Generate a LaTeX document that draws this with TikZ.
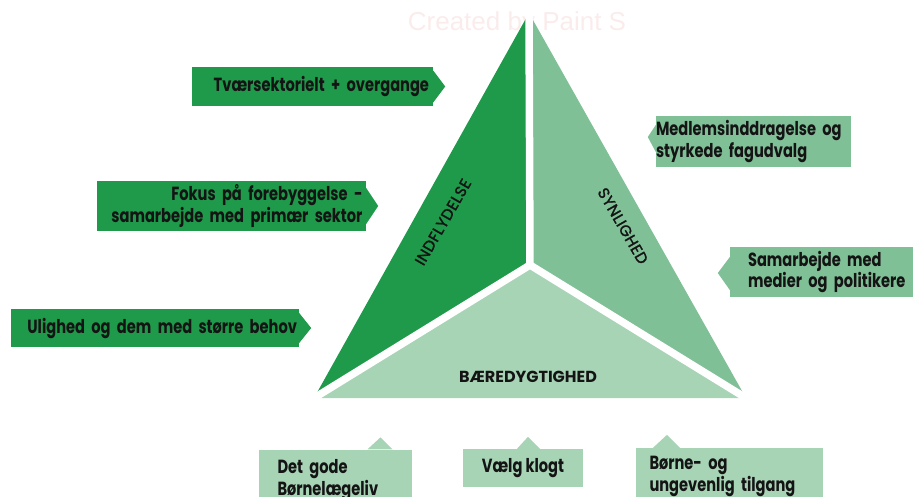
\documentclass[tikz,border=0pt]{standalone}
\usepackage{fontspec}
\usepackage{tikz}
\usepackage{xcolor}
\usetikzlibrary{calc,positioning}
\setmainfont{Poppins}
\newfontfamily\boxfont[FakeStretch=0.77]{Poppins}
\newfontfamily\sidefont[FakeBold=1.5, LetterSpace=3]{Poppins}
\newfontfamily\markfont{Liberation Sans}

\definecolor{dkgreen}{RGB}{30,154,74}
\definecolor{mdgreen}{RGB}{128,192,151}
\definecolor{ltgreen}{RGB}{168,212,182}
\definecolor{txt}{RGB}{20,20,20}
\definecolor{wmark}{RGB}{251,236,236}

\begin{document}
\begin{tikzpicture}[x=1pt, y=-1pt,
    box/.style={inner sep=0pt, text=txt, font=\boxfont\bfseries\fontsize{19}{20}\selectfont},
    leftbox/.style={box, fill=dkgreen, align=right},
    rightbox/.style={box, fill=mdgreen, align=left},
    lowbox/.style={box, fill=ltgreen, align=left},
    side/.style={text=txt, font=\sidefont\fontsize{15.5}{18}\selectfont}]

    \useasboundingbox (0,0) rectangle (913,496);
    \clip (0,0) rectangle (913,496);

    % watermark
    \node[text=wmark, font=\markfont\fontsize{26}{26}\selectfont] (wm) at (517,24) {Created by Paint S};

    % triangle
    \coordinate (apex) at (529,13);
    \coordinate (lft) at (314,398);
    \coordinate (rgt) at (746,398);
    \coordinate (mid) at (530,265);
    \fill[dkgreen] (apex) -- (mid) -- (lft) -- cycle;
    \fill[mdgreen] (apex) -- (mid) -- (rgt) -- cycle;
    \fill[ltgreen] (lft) -- (mid) -- (rgt) -- cycle;
    \draw[white, line width=7.5pt, line join=round] (apex) -- (mid) (lft) -- (mid) -- (rgt);

    \node[side, rotate=60] (indfl) at (443,222) {INDFLYDELSE};
    \node[side, rotate=-60] (synl) at (623,226) {SYNLIGHED};
    \node[text=txt, font=\bfseries\fontsize{16}{18}\selectfont] (baer) at (528,377) {BÆREDYGTIGHED};

    % left boxes
    \node[leftbox, minimum width=241, minimum height=39, text width=233] (tvaer) at (312.5,86.5) {Tværsektorielt + overgange};
    \node[leftbox, minimum width=269, minimum height=50, text width=262] (fokus) at (231.5,206) {Fokus på forebyggelse -\\samarbejde med primær sektor};
    \node[leftbox, minimum width=288, minimum height=38, text width=284] (ulighed) at (155,328) {Ulighed og dem med større behov};
    \fill[dkgreen] ([yshift=16pt]tvaer.east) -- ([xshift=12pt]tvaer.east) -- ([yshift=-16pt]tvaer.east) -- cycle;
    \fill[dkgreen] ([yshift=18pt]fokus.east) -- ([xshift=12pt]fokus.east) -- ([yshift=-18pt]fokus.east) -- cycle;
    \fill[dkgreen] ([yshift=15pt]ulighed.east) -- ([xshift=12pt]ulighed.east) -- ([yshift=-15pt]ulighed.east) -- cycle;

    % right boxes
    \node[rightbox, minimum width=195, minimum height=51, text width=195] (medlem) at (753.5,141.5) {Medlemsinddragelse og\\styrkede fagudvalg};
    \node[rightbox, minimum width=200, minimum height=50, text width=164] (samarb) at (830,272) {Samarbejde med\\medier og politikere};
    \fill[mdgreen] ([yshift=16.5pt]medlem.west) -- ([xshift=-8pt,yshift=4.5pt]medlem.west) -- ([yshift=-10.5pt]medlem.west) -- cycle;
    \fill[mdgreen] ([yshift=15pt]samarb.west) -- ([xshift=-12pt,yshift=-1pt]samarb.west) -- ([yshift=-18pt]samarb.west) -- cycle;

    % bottom boxes
    \node[lowbox, minimum width=153, minimum height=61, text width=116] (detgode) at (335.5,480) {Det gode\\Børnelægeliv};
    \node[lowbox, minimum width=120, minimum height=38, align=center] (vaelg) at (523,468) {Vælg klogt};
    \node[lowbox, minimum width=187, minimum height=57, text width=160] (boerne) at (729.5,476.5) {Børne- og\\ungevenlig tilgang};
    \fill[ltgreen] ([xshift=32pt]detgode.north) -- ([xshift=45pt,yshift=12pt]detgode.north) -- ([xshift=57pt]detgode.north) -- cycle;
    \fill[ltgreen] ([xshift=-6pt]vaelg.north) -- ([xshift=5pt,yshift=12pt]vaelg.north) -- ([xshift=17pt]vaelg.north) -- cycle;
    \fill[ltgreen] ([xshift=-76.5pt]boerne.north) -- ([xshift=-62.5pt,yshift=13pt]boerne.north) -- ([xshift=-49.5pt]boerne.north) -- cycle;

\end{tikzpicture}
\end{document}
